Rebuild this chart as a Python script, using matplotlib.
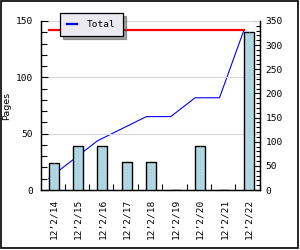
import matplotlib
matplotlib.use("Agg")
import matplotlib.pyplot as plt
from matplotlib.patches import Rectangle
from matplotlib.ticker import MultipleLocator
import numpy as np

days = ["12\u20192/14", "12\u20192/15", "12\u20192/16", "12\u20192/17", "12\u20192/18",
        "12\u20192/19", "12\u20192/20", "12\u20192/21", "12\u20192/22"]
pages = [24, 39, 39, 25, 25, 0, 39, 0, 140]
total = list(np.cumsum(pages))

plt.rcParams['font.family'] = 'DejaVu Sans Mono'
plt.rcParams['font.size'] = 6.8

fig = plt.figure(figsize=(3.0, 2.5), dpi=100)
ax = fig.add_axes([41 / 300, 1 - 190 / 250, 219 / 300, 169 / 250])
ax2 = ax.twinx()

x = np.arange(len(days))
bar_x = x + 0.0
line_x = x - 0.2

# bars on the left axis, cumulative line on the right one
ax.bar(bar_x, pages, width=0.41, color="#add8e6", edgecolor="black", linewidth=1.0, zorder=3)
ax.vlines(bar_x, 0, pages, colors="#e8a8a8", linestyles=(0, (1, 2)), linewidth=0.7, zorder=4)
line, = ax2.plot(line_x, total, color="blue", linewidth=0.8, label="Total", zorder=2)
ax2.plot([line_x[0], line_x[-1]], [max(total), max(total)], color="red", linewidth=1.6, zorder=2)

ax.set_zorder(ax2.get_zorder() + 1)
ax.patch.set_visible(False)

ax.set_xlim(-0.52, 8.46)
ax.set_ylim(0, 150)
ax2.set_ylim(0, 350)

ax.yaxis.set_major_locator(MultipleLocator(50))
ax.yaxis.set_minor_locator(MultipleLocator(10))
ax2.yaxis.set_major_locator(MultipleLocator(50))
ax2.yaxis.set_minor_locator(MultipleLocator(10))
ax.grid(axis="y", color="#d8d8d8", linewidth=0.8, zorder=0)
ax.set_axisbelow(True)

ax.set_xticks(x + 0.45)
ax.set_xticklabels([])
ax.set_xticks(x, minor=True)
ax.set_xticklabels(days, minor=True, rotation=90)
ax.tick_params(axis="x", which="major", direction="in", length=4, width=0.8)
ax.tick_params(axis="x", which="minor", length=0, pad=6)
ax.tick_params(axis="y", which="major", direction="in", length=5, width=0.8, pad=6)
ax.tick_params(axis="y", which="minor", direction="in", length=4, width=0.8)
ax2.tick_params(axis="y", which="major", direction="in", length=5, width=0.8, pad=4)
ax2.tick_params(axis="y", which="minor", direction="in", length=3, width=0.8)

for a in (ax, ax2):
    a.spines["top"].set_visible(False)
    for s in ("left", "right", "bottom"):
        a.spines[s].set_linewidth(0.9)

ax.set_ylabel("Pages", labelpad=3, family="DejaVu Sans")

leg = fig.legend(handles=[line], loc="upper left", bbox_to_anchor=(60 / 300, 1 - 13 / 250),
                 frameon=True, fancybox=False, shadow=True, facecolor="#ebeaf0",
                 edgecolor="black", framealpha=1, handlelength=1.1, borderpad=0.75,
                 handletextpad=1.0, borderaxespad=0)
leg.get_frame().set_linewidth(0.9)
for l in leg.get_lines():
    l.set_linewidth(1.6)

fig.patches.append(Rectangle((0.5 / 300, 2 / 250), 297 / 300, 247.5 / 250, transform=fig.transFigure,
                             fill=False, edgecolor="black", linewidth=1.2))

fig.savefig("out.png", dpi=100)
